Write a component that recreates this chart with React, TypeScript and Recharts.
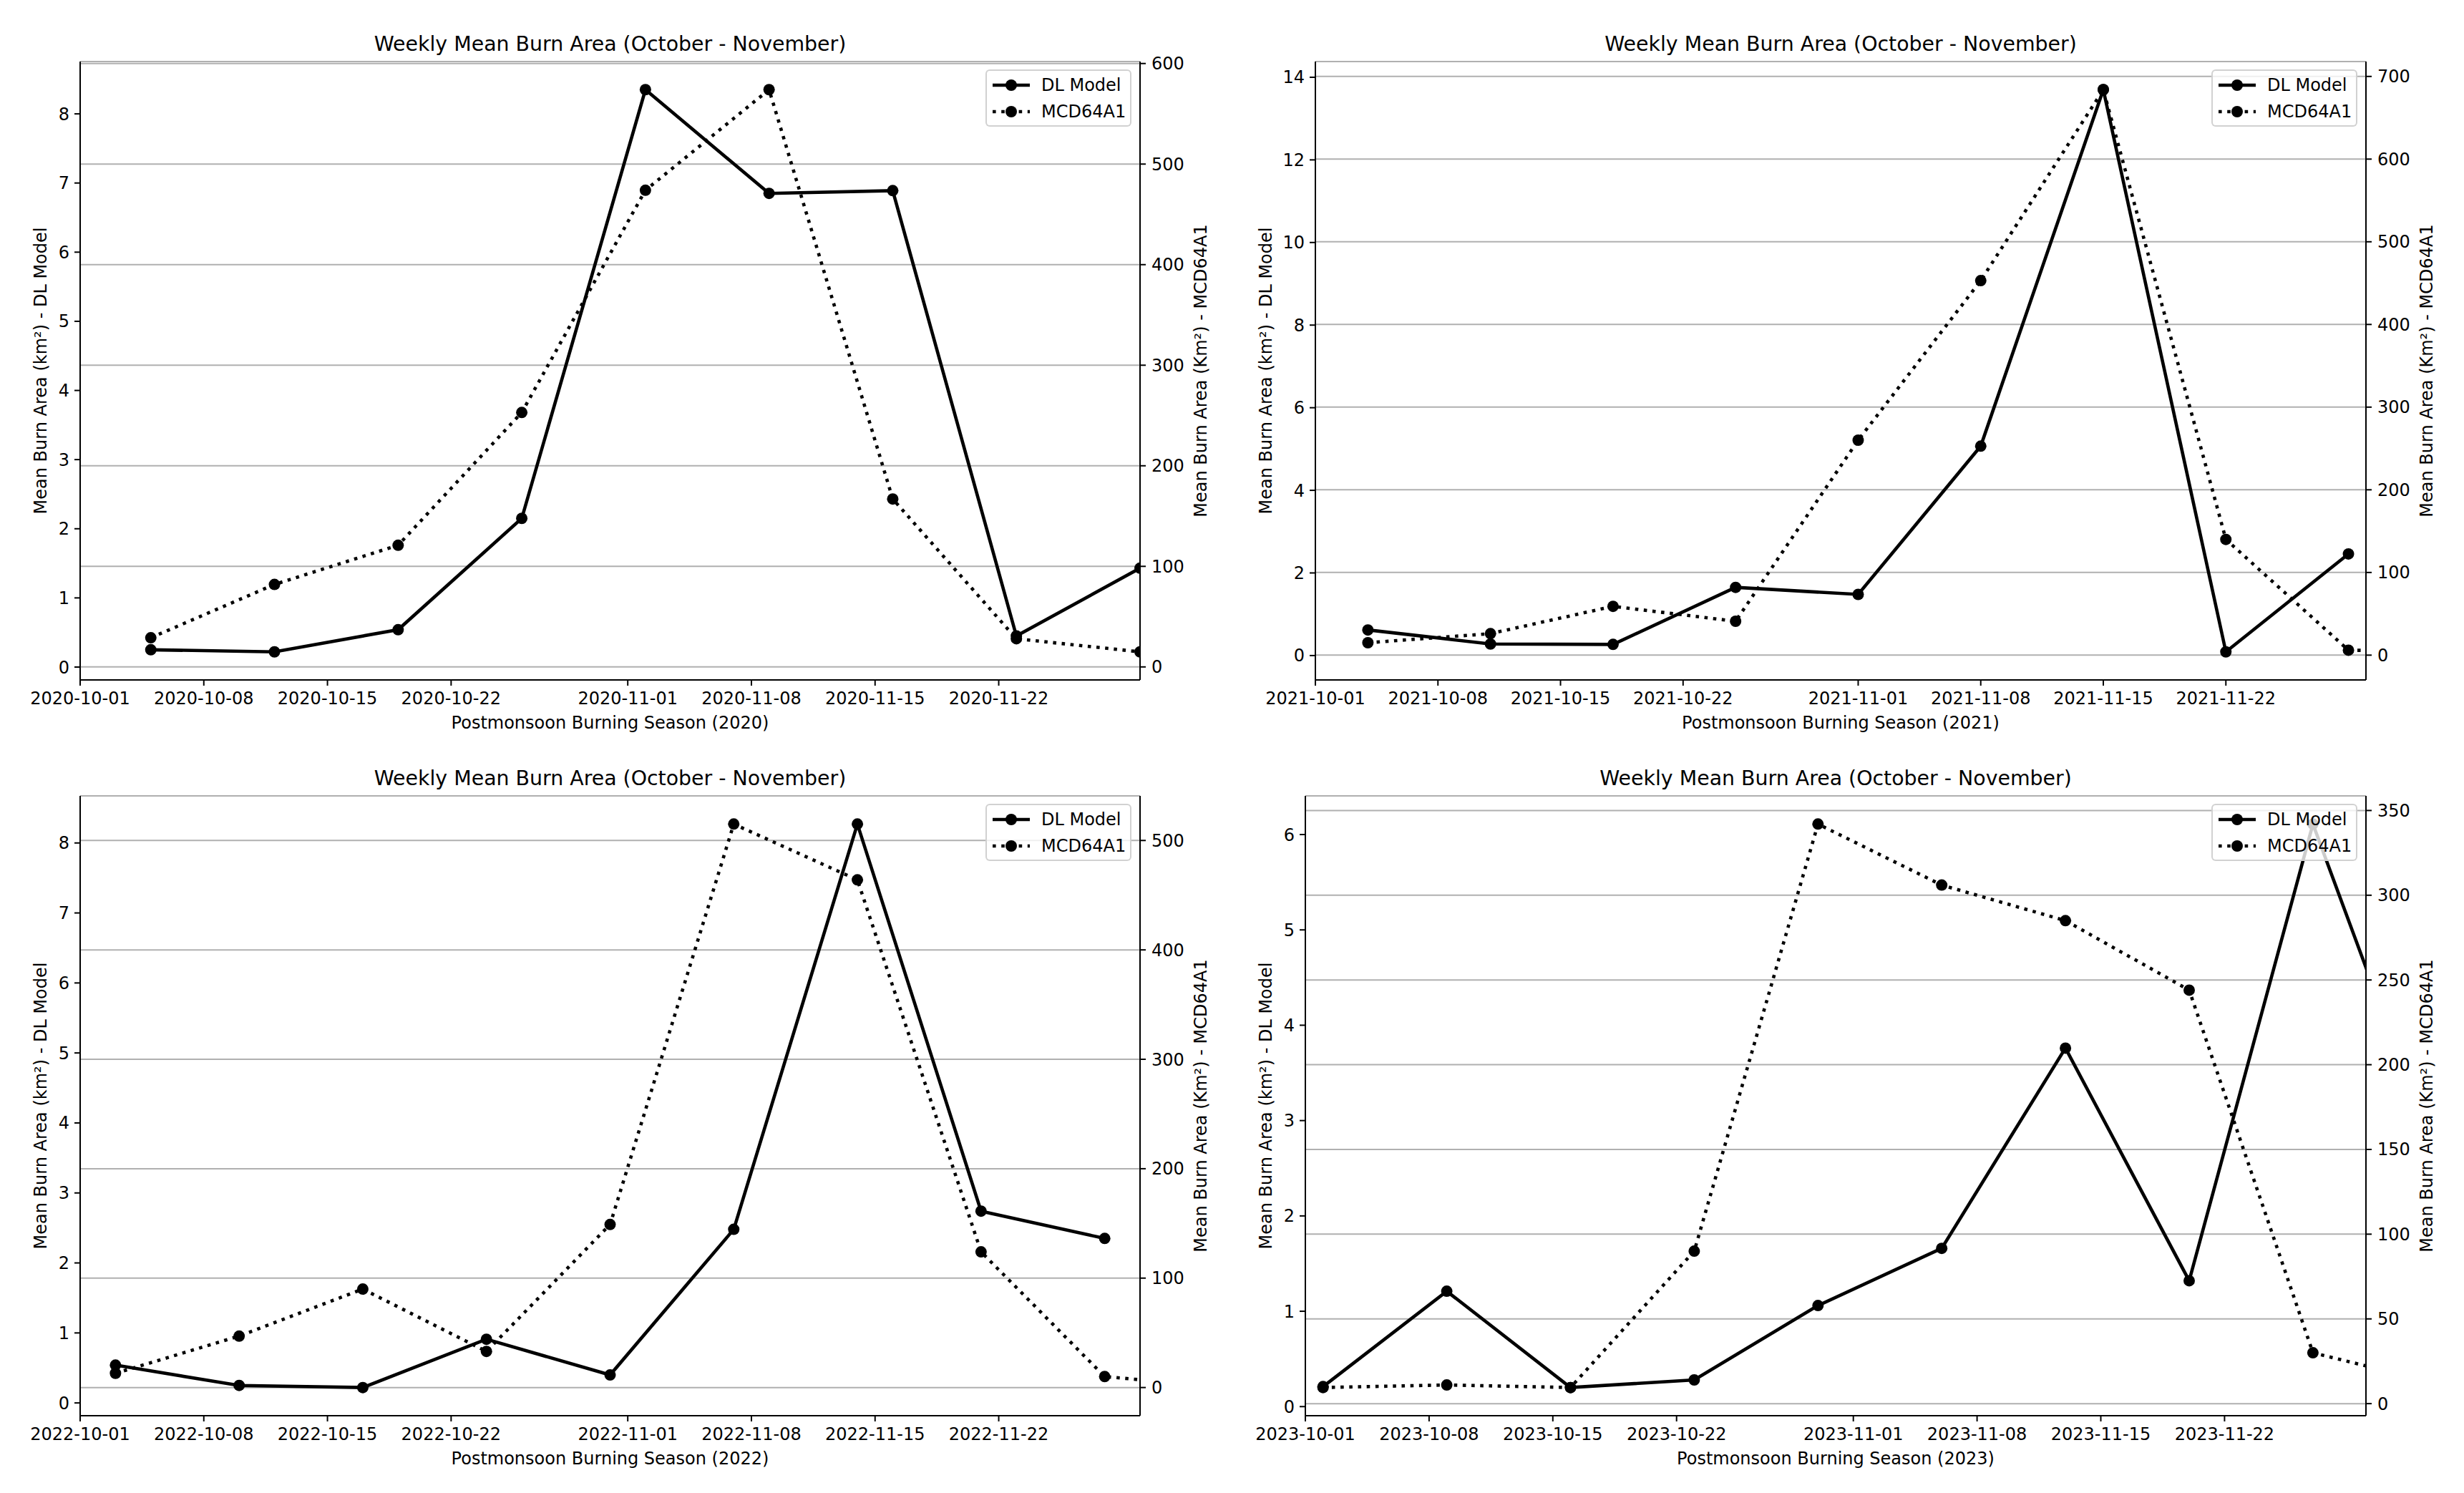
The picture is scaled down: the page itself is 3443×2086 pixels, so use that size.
import { LineChart, Line, XAxis, YAxis, CartesianGrid } from 'recharts';

// x tick positions (month-day), same for every season
const TICK_DAYS = ['10-01', '10-08', '10-15', '10-22', '11-01', '11-08', '11-15', '11-22'];

// 2020
const WEEKS_2020 = ['2020-10-05', '2020-10-12', '2020-10-19', '2020-10-26', '2020-11-02', '2020-11-09', '2020-11-16', '2020-11-23', '2020-11-30'];
const DL_2020 = [0.25, 0.22, 0.54, 2.15, 8.35, 6.85, 6.89, 0.45, 1.43];
const MCD_2020 = [29, 82, 121, 253, 474, 574, 167, 28, 15];
const LEFT_TICKS_2020 = [0, 1, 2, 3, 4, 5, 6, 7, 8];
const RIGHT_TICKS_2020 = [0, 100, 200, 300, 400, 500, 600];

// 2021 (last week falls past the axis end)
const WEEKS_2021 = ['2021-10-04', '2021-10-11', '2021-10-18', '2021-10-25', '2021-11-01', '2021-11-08', '2021-11-15', '2021-11-22', '2021-11-29', '2021-12-06'];
const DL_2021 = [0.62, 0.28, 0.27, 1.65, 1.48, 5.07, 13.7, 0.09, 2.46, null];
const MCD_2021 = [15, 26, 59, 41, 260, 453, 684, 140, 6, 4];
const LEFT_TICKS_2021 = [0, 2, 4, 6, 8, 10, 12, 14];
const RIGHT_TICKS_2021 = [0, 100, 200, 300, 400, 500, 600, 700];

// 2022
const WEEKS_2022 = ['2022-10-03', '2022-10-10', '2022-10-17', '2022-10-24', '2022-10-31', '2022-11-07', '2022-11-14', '2022-11-21', '2022-11-28', '2022-12-05'];
const DL_2022 = [0.54, 0.25, 0.22, 0.91, 0.4, 2.48, 8.27, 2.74, 2.35, null];
const MCD_2022 = [13, 47, 90, 33, 149, 515, 464, 124, 10, 0];
const LEFT_TICKS_2022 = [0, 1, 2, 3, 4, 5, 6, 7, 8];
const RIGHT_TICKS_2022 = [0, 100, 200, 300, 400, 500];

// 2023
const WEEKS_2023 = ['2023-10-02', '2023-10-09', '2023-10-16', '2023-10-23', '2023-10-30', '2023-11-06', '2023-11-13', '2023-11-20', '2023-11-27', '2023-12-04'];
const DL_2023 = [0.21, 1.21, 0.2, 0.28, 1.06, 1.66, 3.76, 1.32, 6.11, 2.6];
const MCD_2023 = [9.5, 11, 9.5, 90, 342, 306, 285, 244, 30, 12];
const LEFT_TICKS_2023 = [0, 1, 2, 3, 4, 5, 6];
const RIGHT_TICKS_2023 = [0, 50, 100, 150, 200, 250, 300, 350];

const TITLE = 'Weekly Mean Burn Area (October - November)';
const LEFT_LABEL = 'Mean Burn Area (km²) - DL Model';
const RIGHT_LABEL = 'Mean Burn Area (Km²) - MCD64A1';

const LW = 4.6;
const DOTTED = '4.6 7.6';
const FONT = 24;
const TITLE_FONT = 28.4;

const toTs = (s: string) => {
  const [y, m, d] = s.split('-').map(Number);
  return Date.UTC(y, m - 1, d);
};
const fmtDate = (t: number) => new Date(t).toISOString().slice(0, 10);

// matplotlib-style 5% margins
function padded(values: (number | null)[]): [number, number] {
  const v = values.filter((x): x is number => x != null);
  const lo = Math.min(...v);
  const hi = Math.max(...v);
  const m = (hi - lo) * 0.05;
  return [lo - m, hi + m];
}

const SideTitle = (props: any) => {
  const { viewBox, text, shift } = props;
  const x = viewBox.x + viewBox.width / 2 + shift;
  const y = viewBox.y + viewBox.height / 2;
  return (
    <text x={x} y={y} transform={`rotate(-90 ${x} ${y})`} textAnchor="middle" dy="0.355em" fontSize={FONT} fill="#000">
      {text}
    </text>
  );
};

function LegendBox() {
  const row = (dash: string | undefined, label: string, cy: number) => (
    <div style={{ position: 'absolute', left: 0, top: cy - 14, height: 28, width: '100%' }}>
      <svg width={56} height={28} style={{ position: 'absolute', left: 6, top: 0 }}>
        <line x1={2} y1={14} x2={54} y2={14} stroke="#000" strokeWidth={LW} strokeDasharray={dash} />
        <circle cx={28} cy={14} r={8} fill="#000" />
      </svg>
      <span style={{ position: 'absolute', left: 76, top: 0, lineHeight: '28px', fontSize: FONT, color: '#000', whiteSpace: 'nowrap' }}>{label}</span>
    </div>
  );
  return (
    <div
      style={{
        position: 'absolute',
        width: 204,
        height: 80,
        boxSizing: 'border-box',
        border: '2px solid rgba(204,204,204,0.9)',
        borderRadius: 6,
        background: 'rgba(255,255,255,0.8)',
      }}
    >
      {row(undefined, 'DL Model', 20)}
      {row(DOTTED, 'MCD64A1', 57)}
    </div>
  );
}

type PanelProps = {
  year: number;
  weeks: string[];
  dl: (number | null)[];
  mcd: (number | null)[];
  leftTicks: number[];
  rightTicks: number[];
  x: number;
  y: number;
  w: number;
  h: number;
  plotL: number;
  plotR: number;
  plotT: number;
  plotB: number;
  leftGap: number;
};

function Panel(p: PanelProps) {
  const rows = p.weeks.map((d, i) => ({ t: toTs(d), dl: p.dl[i], mcd: p.mcd[i] }));
  const xDomain = [toTs(`${p.year}-10-01`), toTs(`${p.year}-11-30`)];
  const xTicks = TICK_DAYS.map((md) => toTs(`${p.year}-${md}`));
  const rightW = p.w - p.plotR;
  const xh = p.h - p.plotB;
  const axisLine = { stroke: '#000', strokeWidth: 2 };
  const tick = { fontSize: FONT, fill: '#000' };

  return (
    <div style={{ position: 'absolute', left: p.x, top: p.y, width: p.w, height: p.h }}>
      <div
        style={{
          position: 'absolute',
          left: p.plotL,
          width: p.plotR - p.plotL,
          top: p.plotT - 14 - 24,
          fontSize: TITLE_FONT,
          lineHeight: `${TITLE_FONT}px`,
          textAlign: 'center',
          color: '#000',
          whiteSpace: 'nowrap',
        }}
      >
        {TITLE}
      </div>
      <LineChart width={p.w} height={p.h} data={rows} margin={{ top: p.plotT, right: 0, bottom: 0, left: 0 }}>
        <CartesianGrid yAxisId="right" xAxisId="bottom" vertical={false} stroke="#b0b0b0" strokeWidth={2} />
        <XAxis
          xAxisId="bottom"
          dataKey="t"
          type="number"
          domain={xDomain}
          allowDataOverflow
          ticks={xTicks}
          interval={0}
          tickFormatter={fmtDate}
          height={xh}
          tickSize={8}
          tickMargin={9}
          axisLine={axisLine}
          tickLine={axisLine}
          tick={tick}
          label={{ value: `Postmonsoon Burning Season (${p.year})`, position: 'insideBottom', offset: xh - 67.5, fontSize: FONT, fill: '#000' }}
        />
        <XAxis
          xAxisId="top"
          orientation="top"
          dataKey="t"
          type="number"
          domain={xDomain}
          allowDataOverflow
          height={0}
          tick={false}
          tickLine={false}
          axisLine={axisLine}
        />
        <YAxis
          yAxisId="left"
          orientation="left"
          width={p.plotL}
          domain={padded(p.dl)}
          allowDataOverflow
          ticks={p.leftTicks}
          interval={0}
          tickSize={8}
          tickMargin={7}
          axisLine={axisLine}
          tickLine={axisLine}
          tick={tick}
          label={<SideTitle text={LEFT_LABEL} shift={p.plotL / 2 - p.leftGap} />}
        />
        <YAxis
          yAxisId="right"
          orientation="right"
          width={rightW}
          domain={padded(p.mcd)}
          allowDataOverflow
          ticks={p.rightTicks}
          interval={0}
          tickSize={8}
          tickMargin={8}
          axisLine={axisLine}
          tickLine={axisLine}
          tick={tick}
          label={<SideTitle text={RIGHT_LABEL} shift={84.5 - rightW / 2} />}
        />
        <Line
          xAxisId="bottom"
          yAxisId="left"
          dataKey="dl"
          stroke="#000"
          strokeWidth={LW}
          dot={{ r: 8, fill: '#000', stroke: 'none' }}
          activeDot={false}
          isAnimationActive={false}
        />
        <Line
          xAxisId="bottom"
          yAxisId="right"
          dataKey="mcd"
          stroke="#000"
          strokeWidth={LW}
          strokeDasharray={DOTTED}
          dot={{ r: 8, fill: '#000', stroke: 'none', strokeDasharray: '' }}
          activeDot={false}
          isAnimationActive={false}
        />
      </LineChart>
      <div style={{ position: 'absolute', left: p.plotR - 216, top: p.plotT + 11 }}>
        <LegendBox />
      </div>
    </div>
  );
}

export default function App() {
  return (
    <div
      style={{
        position: 'absolute',
        left: 0,
        top: 0,
        width: 3443,
        height: 2086,
        background: '#fff',
        fontFamily: '"DejaVu Sans", sans-serif',
      }}
    >
      <Panel year={2020} weeks={WEEKS_2020} dl={DL_2020} mcd={MCD_2020} leftTicks={LEFT_TICKS_2020} rightTicks={RIGHT_TICKS_2020}
        x={0} y={0} w={1720} h={1043} plotL={112} plotR={1593} plotT={86} plotB={950} leftGap={55.5} />
      <Panel year={2021} weeks={WEEKS_2021} dl={DL_2021} mcd={MCD_2021} leftTicks={LEFT_TICKS_2021} rightTicks={RIGHT_TICKS_2021}
        x={1720} y={0} w={1723} h={1043} plotL={118} plotR={1586} plotT={86} plotB={950} leftGap={70} />
      <Panel year={2022} weeks={WEEKS_2022} dl={DL_2022} mcd={MCD_2022} leftTicks={LEFT_TICKS_2022} rightTicks={RIGHT_TICKS_2022}
        x={0} y={1043} w={1720} h={1043} plotL={112} plotR={1593} plotT={69} plotB={935} leftGap={55.5} />
      <Panel year={2023} weeks={WEEKS_2023} dl={DL_2023} mcd={MCD_2023} leftTicks={LEFT_TICKS_2023} rightTicks={RIGHT_TICKS_2023}
        x={1720} y={1043} w={1723} h={1043} plotL={104} plotR={1586} plotT={69} plotB={935} leftGap={55.5} />
    </div>
  );
}
